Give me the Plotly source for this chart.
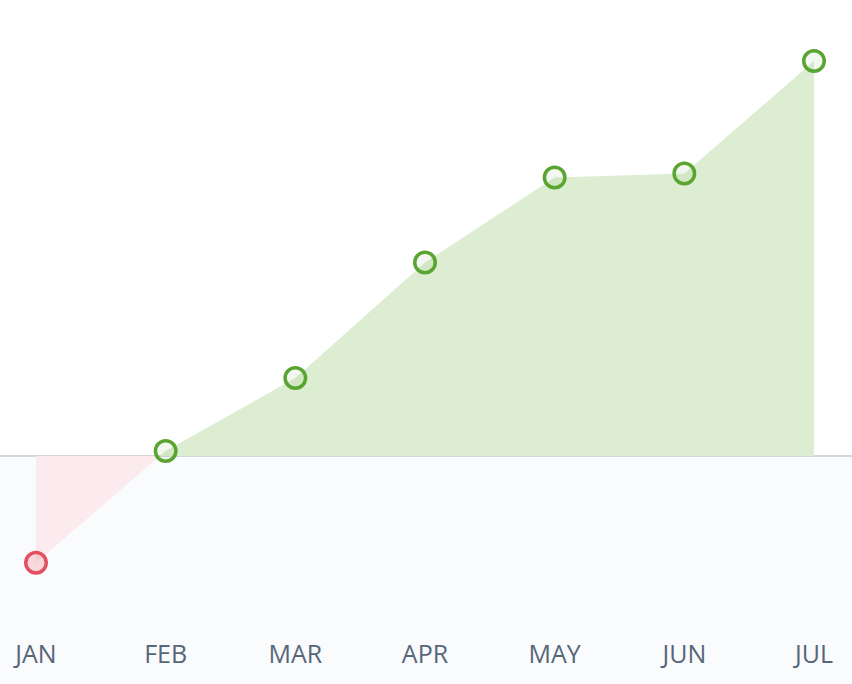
import plotly.graph_objects as go

months = ["JAN", "FEB", "MAR", "APR", "MAY", "JUN", "JUL"]
values = [-5.4, 0.25, 3.95, 9.8, 14.1, 14.3, 20.0]

green = "#5aa532"
green_area = "#ddedd1"
red = "#e4505f"
red_area = "#fcebee"


def split_at_zero(xs, ys):
    # add the points where the line crosses zero so the two fills meet cleanly
    out_x, out_y = [xs[0]], [ys[0]]
    for i in range(1, len(xs)):
        y0, y1 = ys[i - 1], ys[i]
        if y0 * y1 < 0:
            t = y0 / (y0 - y1)
            out_x.append(xs[i - 1] + t * (xs[i] - xs[i - 1]))
            out_y.append(0)
        out_x.append(xs[i])
        out_y.append(y1)
    return out_x, out_y


idx = list(range(len(months)))
fx, fy = split_at_zero(idx, values)
pos = [max(v, 0) for v in fy]
neg = [min(v, 0) for v in fy]

fig = go.Figure()
fig.add_trace(go.Scatter(x=fx, y=neg, mode="lines", line=dict(width=0),
                         fill="tozeroy", fillcolor=red_area, hoverinfo="skip"))
fig.add_trace(go.Scatter(x=fx, y=pos, mode="lines", line=dict(width=0),
                         fill="tozeroy", fillcolor=green_area, hoverinfo="skip"))

colors = [red if v < 0 else green for v in values]
fills = ["rgba(228,80,95,0.2)" if v < 0 else "rgba(90,165,50,0.08)" for v in values]
fig.add_trace(go.Scatter(x=idx, y=values, mode="markers",
                         marker=dict(size=20.5, color=fills, line=dict(width=3.5, color=colors))))

px_per_unit = 19.75
plot_h = 624
zero_px = 456
y_top = zero_px / px_per_unit
y_bot = -(plot_h - zero_px) / px_per_unit

step = 129.67
fig.update_layout(
    width=852, height=684,
    margin=dict(l=0, r=0, t=0, b=60),
    paper_bgcolor="#fafbfd",
    plot_bgcolor="#fafbfd",
    showlegend=False,
    font=dict(family="Open Sans", color="#566779"),
    xaxis=dict(range=[-36 / step, 6 + 38 / step], tickvals=idx, ticktext=months,
               showgrid=False, zeroline=False, showline=False,
               ticks="outside", ticklen=8, tickcolor="rgba(0,0,0,0)",
               tickfont=dict(size=25, color="#566779")),
    yaxis=dict(range=[y_bot, y_top], visible=False),
    shapes=[
        dict(type="rect", xref="paper", yref="y", x0=0, x1=1, y0=0, y1=y_top,
             fillcolor="white", line=dict(width=0), layer="below"),
        dict(type="line", xref="paper", yref="y", x0=0, x1=1, y0=0, y1=0,
             line=dict(color="#d4d6d9", width=2), layer="below"),
    ],
)

fig.write_html("out.html", config={"displayModeBar": False},
               post_script="document.body.style.margin = '0';")
